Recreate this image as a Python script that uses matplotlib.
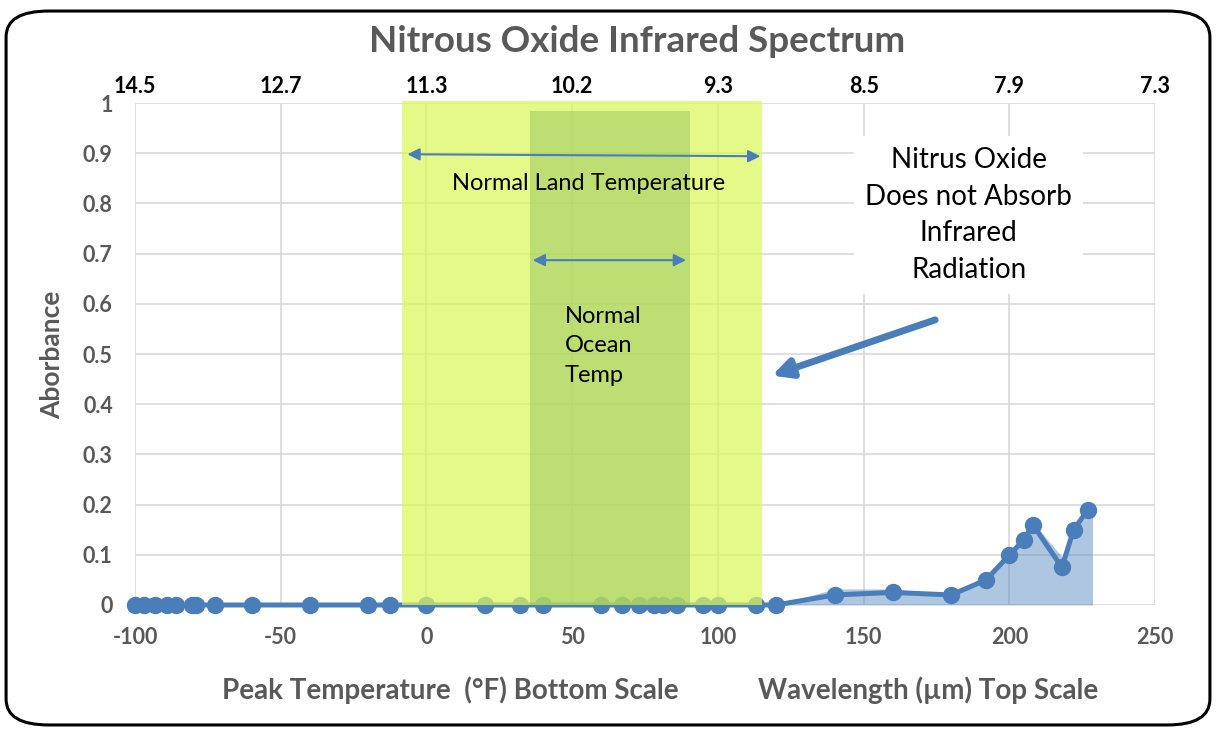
import numpy as np
import matplotlib
matplotlib.use('Agg')
from matplotlib import pyplot as plt
from matplotlib.patches import FancyBboxPatch, Rectangle

plt.rcParams['font.family'] = ['Lato', 'DejaVu Sans']
plt.rcParams['font.weight'] = 'bold'
plt.rcParams['axes.unicode_minus'] = False

# data
temp_f = [-100, -97, -93, -89, -86, -80.5, -79, -72.5, -60, -40, -20, -12.5, 0, 20, 32, 40,
          60, 67, 73, 78, 81, 86, 95, 100, 113, 120, 140, 160, 180, 192, 200, 205, 208,
          218, 222, 227]
absorb = [0] * 26 + [0.02, 0.025, 0.02, 0.05, 0.1, 0.13, 0.16, 0.075, 0.15, 0.19]

area_x = [120, 140, 160, 180, 192, 200, 205, 208, 218, 222, 228.5]
area_y = [0, 0.032, 0.032, 0.02, 0.05, 0.1, 0.13, 0.165, 0.096, 0.15, 0.19]

bottom_ticks = [-100, -50, 0, 50, 100, 150, 200, 250]
top_labels = ['14.5', '12.7', '11.3', '10.2', '9.3', '8.5', '7.9', '7.3']
y_ticks = [0, 0.1, 0.2, 0.3, 0.4, 0.5, 0.6, 0.7, 0.8, 0.9, 1]
y_labels = ['0', '0.1', '0.2', '0.3', '0.4', '0.5', '0.6', '0.7', '0.8', '0.9', '1']

land_band = (-8.4, 115.2)
ocean_band = (35.6, 90.5)

gray = '#595959'
blue = '#4a7ebb'

fig = plt.figure(figsize=(12.16, 7.36), dpi=100)
ax = fig.add_axes([0.111, 0.178, 0.839, 0.682])

ax.fill_between(area_x, area_y, 0, color='#4f81bd', alpha=0.45, lw=0, zorder=2)
ax.plot(temp_f, absorb, color=blue, lw=3.6, marker='o', ms=11.5, zorder=3, clip_on=False)

ax.add_patch(Rectangle((land_band[0], 0), land_band[1] - land_band[0], 1.005,
                       color='#dcf75a', alpha=0.72, lw=0, zorder=4, clip_on=False))
ax.add_patch(Rectangle((ocean_band[0], 0), ocean_band[1] - ocean_band[0], 0.985,
                       color='#8cbe5a', alpha=0.45, lw=0, zorder=5))

ax.set_xlim(-100, 250)
ax.set_ylim(0, 1)
ax.set_xticks(bottom_ticks)
ax.set_xticklabels([str(t) for t in bottom_ticks])
ax.set_yticks(y_ticks)
ax.set_yticklabels(y_labels)
ax.grid(True, color='#d9d9d9', lw=1.2, zorder=0)
ax.set_axisbelow(True)
for s in ax.spines.values():
    s.set_visible(False)
ax.tick_params(length=0, labelsize=15.5, labelcolor=gray)
ax.tick_params(axis='x', pad=16)
ax.tick_params(axis='y', pad=16)

ax2 = ax.twiny()
ax2.set_xlim(ax.get_xlim())
ax2.set_xticks(bottom_ticks)
ax2.set_xticklabels(top_labels)
ax2.tick_params(length=0, pad=4, labelsize=15.5, labelcolor='black')
for s in ax2.spines.values():
    s.set_visible(False)

# arrows and notes
ax.annotate('', xy=(-7.5, 0.898), xytext=(115.5, 0.894),
            arrowprops=dict(arrowstyle='<|-|>', color=blue, lw=1.5, mutation_scale=18), zorder=6)
ax.annotate('', xy=(35.5, 0.687), xytext=(90, 0.687),
            arrowprops=dict(arrowstyle='<|-|>', color=blue, lw=1.5, mutation_scale=18), zorder=6)
ax.text(55.5, 0.84, 'Normal Land Temperature', fontsize=17, fontweight='normal',
        ha='center', va='center', zorder=7)
ax.text(47.5, 0.516, 'Normal\nOcean\nTemp', fontsize=17, fontweight='normal', ha='left',
        va='center', linespacing=1.52, zorder=7)
ax.text(186, 0.777, 'Nitrus Oxide\nDoes not Absorb\nInfrared\nRadiation', fontsize=20,
        fontweight='normal', ha='center', va='center', linespacing=1.5, zorder=7,
        bbox=dict(facecolor='white', edgecolor='none', pad=8))
ax.annotate('', xy=(118.5, 0.457), xytext=(174.5, 0.568),
            arrowprops=dict(arrowstyle='-|>', color=blue, lw=5, mutation_scale=28,
                            shrinkA=0, shrinkB=0), zorder=6)

fig.text(0.524, 0.944, 'Nitrous Oxide Infrared Spectrum', fontsize=26.5, color=gray,
         ha='center', va='center')
fig.text(0.37, 0.062, 'Peak Temperature  (°F) Bottom Scale', fontsize=20, color=gray,
         ha='center', va='center')
fig.text(0.763, 0.062, 'Wavelength (µm) Top Scale', fontsize=20, color=gray,
         ha='center', va='center')
fig.text(0.043, 0.518, 'Aborbance', fontsize=19, color=gray,
         rotation=90, ha='center', va='center')

fig.patches.append(FancyBboxPatch((0.03, 0.04), 0.94, 0.92,
                                  boxstyle='round,pad=0.025,rounding_size=0.035',
                                  transform=fig.transFigure, fill=False, ec='black', lw=2.2))

fig.savefig('out.png', dpi=100)
